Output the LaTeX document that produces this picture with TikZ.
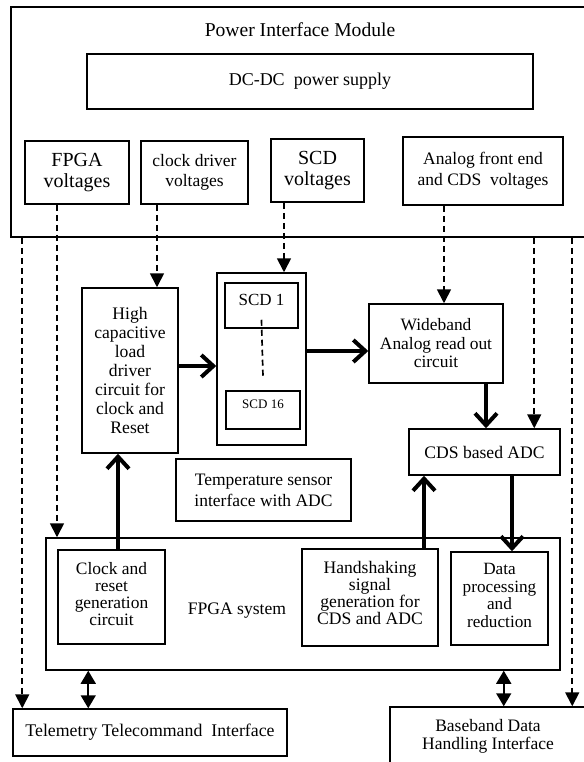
\documentclass[tikz,border=0pt]{standalone}
\usepackage{fontspec}
\setmainfont{Liberation Serif}
\usetikzlibrary{arrows.meta}
\newcommand\myfs[2]{\fontsize{#1}{#2}\selectfont}
\tikzset{
 box/.style={draw, line width=1.5pt, inner sep=0pt, align=center},
 dasharrow/.style={line width=1.7pt, dash pattern=on 6pt off 4pt, -{Triangle[length=14pt,width=14pt]}},
 dashplain/.style={line width=1.7pt, dash pattern=on 6pt off 4pt},
 thickarrow/.style={line width=4pt, -{Straight Barb[length=12pt,width=22pt]}},
 dblarrow/.style={line width=1.7pt, {Triangle[length=13pt,width=15pt]}-{Triangle[length=13pt,width=15pt]}},
}
\begin{document}
\begin{tikzpicture}[x=1pt,y=-1pt]
\useasboundingbox (0,0) rectangle (583,762);
% Power interface module
\node[box, minimum width=575pt, minimum height=230pt] (pim) at (298.5,122) {};
\node[font=\myfs{19.6}{22}] (pimtitle) at (300,30) {Power Interface Module};
\node[box, minimum width=446pt, minimum height=55pt, font=\myfs{18}{20}] (dcdc) at (310,81.5) {DC-DC\ \ power supply};
\node[box, minimum width=104pt, minimum height=63pt, font=\myfs{20}{21}] (fpgav) at (77,172.5) {FPGA\\voltages};
\node[box, minimum width=107pt, minimum height=63pt, font=\myfs{17.5}{20}] (clkv) at (194.5,172.5) {clock driver\\voltages};
\node[box, minimum width=93pt, minimum height=63pt, font=\myfs{20}{21}] (scdv) at (317.5,170.5) {SCD\\voltages};
\node[box, minimum width=160pt, minimum height=68pt, font=\myfs{17.5}{21}] (anav) at (483,171) {Analog front end\\and CDS\ \ voltages};
% middle
\node[box, minimum width=96pt, minimum height=165pt, font=\myfs{17.6}{19}] (hcap) at (130,370.5) {High\\capacitive\\load\\driver\\circuit for\\clock and\\Reset};
\node[box, minimum width=89pt, minimum height=172pt] (scdo) at (261.5,359) {};
\node[box, minimum width=73pt, minimum height=45pt, label={[font=\myfs{17}{19}, yshift=6pt]center:SCD 1}] (scd1) at (261.5,305.5) {};
\node[box, minimum width=74pt, minimum height=38pt, label={[font=\myfs{13}{15}, yshift=6pt]center:SCD 16}] (scd16) at (263,410) {};
\node[box, minimum width=134pt, minimum height=79pt, font=\myfs{17.4}{18.5}] (wide) at (436,343.5) {Wideband\\Analog read out\\circuit};
\node[box, minimum width=151pt, minimum height=46pt, font=\myfs{17.6}{20}] (cds) at (484.5,452) {CDS based ADC};
\node[box, minimum width=175pt, minimum height=62pt, font=\myfs{17.5}{21}] (temp) at (263.5,490) {Temperature sensor\\interface with ADC};
% FPGA system
\node[box, minimum width=514pt, minimum height=132pt] (fpga) at (303,604) {};
\node[font=\myfs{17.6}{20}] (fpgatxt) at (237,611) {FPGA system};
\node[box, minimum width=107pt, minimum height=94pt, label={[font=\myfs{17.4}{17}, align=center, yshift=2.5pt]center:{Clock and\\reset\\generation\\circuit}}] (clk) at (111.5,597) {};
\node[box, minimum width=136pt, minimum height=97pt, label={[font=\myfs{17.6}{17}, align=center, yshift=5pt]center:{Handshaking\\signal\\generation for\\CDS and ADC}}] (hand) at (370,597.5) {};
\node[box, minimum width=97pt, minimum height=93pt, label={[font=\myfs{17.2}{17.5}, align=center, yshift=3pt]center:{Data\\processing\\and\\reduction}}] (data) at (499.5,598.5) {};
% interfaces
\node[box, minimum width=274pt, minimum height=47pt, font=\myfs{17.8}{20}] (tele) at (150,732.5) {Telemetry Telecommand\ \ Interface};
\node[box, minimum width=196pt, minimum height=59pt, font=\myfs{17.5}{18}] (base) at (488,736.5) {Baseband Data\\Handling Interface};
% dashed supply connectors
\coordinate (a1) at ([xshift=-20pt]fpgav.south);
\draw[dasharrow] (a1) -- (a1 |- fpga.north);
\coordinate (a2) at ([xshift=-37.5pt]clkv.south);
\draw[dasharrow] (a2) -- (a2 |- hcap.north);
\coordinate (a3) at ([xshift=-33.5pt]scdv.south);
\draw[dasharrow] (a3) -- (a3 |- scdo.north);
\coordinate (a4) at ([xshift=-39pt]anav.south);
\draw[dasharrow] (a4) -- (a4 |- wide.north);
\coordinate (b1) at ([xshift=12pt]pim.south west);
\draw[dasharrow] (b1) -- (b1 |- tele.north);
\coordinate (b2) at ([xshift=524pt]pim.south west);
\draw[dasharrow] (b2) -- (b2 |- cds.north);
\coordinate (b3) at ([xshift=562pt]pim.south west);
\draw[dasharrow] (b3) -- (b3 |- base.north);
\draw[dashplain] ([yshift=9pt]scd1.south) -- ([yshift=13pt]scd16.north);
% thick signal arrows
\coordinate (c1) at ([yshift=4.5pt]hcap.east);
\draw[thickarrow] (c1) -- (c1 -| scdo.west);
\coordinate (c2) at ([yshift=8pt]scdo.east);
\draw[thickarrow] (c2) -- (c2 -| wide.west);
\coordinate (c3) at ([xshift=50pt]wide.south);
\draw[thickarrow] (c3) -- (c3 |- cds.north);
\coordinate (c4) at ([xshift=27.5pt]cds.south);
\draw[thickarrow] (c4) -- (c4 |- data.north);
\coordinate (c5) at ([xshift=54pt]hand.north);
\draw[thickarrow] (c5) -- (c5 |- cds.south);
\coordinate (c6) at ([xshift=6.5pt]clk.north);
\draw[thickarrow] (c6) -- (c6 |- hcap.south);
% bidirectional
\coordinate (d1) at ([xshift=43pt]fpga.south west);
\draw[dblarrow] (d1) -- (d1 |- tele.north);
\coordinate (d2) at ([xshift=-57pt]fpga.south east);
\draw[dblarrow] (d2) -- (d2 |- base.north);
\end{tikzpicture}
\end{document}
